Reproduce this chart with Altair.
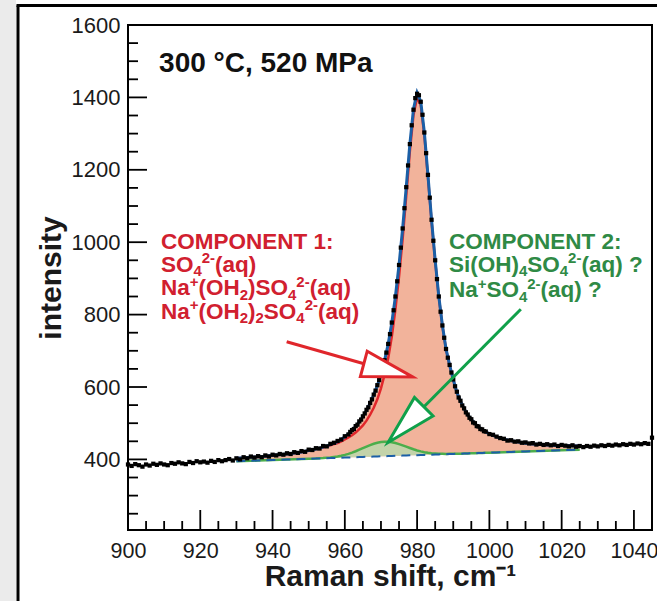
import altair as alt
import pandas as pd

# ---------------- data ----------------
# measured spectrum: 1 cm-1 sampling on the flanks, 0.5 cm-1 around the band
data_x = ([900 + i for i in range(62)]
          + [961.5 + 0.5 * i for i in range(75)]
          + [999 + i for i in range(47)])
data_y = [386, 382, 387, 384, 380, 386, 383, 388, 385, 389,
          386, 384, 390, 388, 392, 389, 387, 393, 390, 395,
          392, 394, 391, 396, 393, 398, 395, 398, 401, 397,
          403, 400, 406, 403, 408, 405, 409, 406, 411, 408,
          413, 411, 415, 413, 417, 415, 420, 418, 423, 421,
          427, 426, 431, 430, 437, 436, 443, 446, 451, 455,
          464, 469,
          476, 481, 484, 492, 496, 505, 510, 519, 527, 537, 544, 556, 566, 579, 590, 605, 619, 636,
          654, 674, 695, 719, 746, 778, 812, 850, 892, 937, 985, 1038, 1094, 1152, 1212, 1271, 1323, 1366, 1398, 1410,
          1406, 1388, 1352, 1303, 1246, 1186, 1123, 1062, 1004, 950, 898, 850, 808, 770, 736, 705, 681, 661, 640, 621,
          602, 587, 571, 562, 549, 541, 530, 524, 515, 511, 502, 500, 492, 491, 484, 483, 478,
          477, 470, 468, 463, 459, 457, 452, 453, 449, 450,
          446, 447, 444, 445, 441, 443, 440, 442, 439, 441,
          437, 440, 438, 436, 439, 435, 437, 434, 437, 435,
          438, 436, 439, 437, 440, 438, 441, 439, 442, 440,
          443, 441, 444, 442, 445, 443, 460]

# fitted curves
fit_x = ([930, 932, 934, 936, 938, 940, 942, 944, 946, 948, 950, 952, 954, 956]
         + list(range(957, 1001))
         + [1002, 1004, 1006, 1008, 1010, 1012, 1014, 1016, 1018, 1020, 1022, 1025])
baseline_vals = [395.0, 395.7, 396.3, 397.0, 397.7, 398.4, 399.0, 399.7, 400.4, 401.1, 401.7, 402.4, 403.1, 403.8,
                 404.1, 404.4, 404.8, 405.1, 405.4, 405.8, 406.1, 406.5, 406.8, 407.1,
                 407.5, 407.8, 408.1, 408.5, 408.8, 409.1, 409.5, 409.8, 410.2, 410.5,
                 410.8, 411.2, 411.5, 411.8, 412.2, 412.5, 412.8, 413.2, 413.5, 413.8,
                 414.2, 414.5, 414.9, 415.2, 415.5, 415.9, 416.2, 416.5, 416.9, 417.2,
                 417.6, 417.9, 418.2, 418.6,
                 419.3, 419.9, 420.6, 421.3, 421.9, 422.6, 423.3, 424.0, 424.6, 425.3, 426.0, 427.0]
component1_vals = [403.0, 404.7, 406.3, 407.0, 408.7, 411.4, 413.0, 414.7, 417.4, 420.1, 424.7, 428.4, 433.1, 438.8,
                   442.1, 445.4, 449.8, 455.1, 460.4, 466.8, 474.1, 483.5, 493.8, 507.1,
                   523.5, 542.8, 566.1, 596.5, 633.8, 679.1, 739.5, 814.8, 905.2, 1009.5,
                   1128.8, 1251.2, 1351.5, 1399.8, 1379.2, 1296.5, 1179.8, 1058.2, 947.5, 848.8,
                   769.2, 704.5, 659.9, 620.2, 585.5, 560.9, 540.2, 523.5, 509.9, 499.2,
                   489.6, 481.9, 476.2, 470.6,
                   462.3, 455.9, 451.6, 448.3, 444.9, 442.6, 441.3, 440.0, 438.6, 438.3, 438.0, 437.0]
component2_vals = [395.0, 395.7, 396.3, 397.0, 397.7, 398.4, 399.0, 399.7, 400.4, 401.1, 401.7, 402.5, 403.8, 405.6,
                   406.8, 408.2, 410.2, 412.6, 415.4, 418.8, 422.6, 426.8, 431.0, 435.4,
                   439.5, 443.1, 445.9, 447.9, 448.8, 448.5, 447.3, 445.1, 442.2, 438.8,
                   435.1, 431.5, 428.0, 424.8, 422.2, 420.0, 418.2, 417.0, 416.2, 415.6,
                   415.3, 415.2, 415.3, 415.4, 415.5, 415.9, 416.2, 416.5, 416.9, 417.2,
                   417.6, 417.9, 418.2, 418.6,
                   419.3, 419.9, 420.6, 421.3, 421.9, 422.6, 423.3, 424.0, 424.6, 425.3, 426.0, 427.0]
total_vals = [403.0, 404.7, 406.3, 407.0, 408.7, 411.4, 413.0, 414.7, 417.4, 420.1, 424.7, 428.5, 433.8, 440.6,
              444.8, 449.2, 455.2, 462.6, 470.4, 479.8, 490.6, 503.8, 518.0, 535.4,
              555.5, 578.1, 603.9, 635.9, 673.8, 718.5, 777.3, 850.1, 937.2, 1037.8,
              1153.1, 1271.5, 1368.0, 1412.8, 1389.2, 1304.0, 1185.2, 1062.0, 950.2, 850.6,
              770.3, 705.2, 660.3, 620.4, 585.5, 560.9, 540.2, 523.5, 509.9, 499.2,
              489.6, 481.9, 476.2, 470.6,
              462.3, 455.9, 451.6, 448.3, 444.9, 442.6, 441.3, 440.0, 438.6, 438.3, 438.0, 437.0]

# axis tick values / labels
x_labels = [900, 920, 940, 960, 980, 1000, 1020, 1040]
x_minor = [v for v in range(905, 1045, 5) if v % 20 != 0]
y_labels = [400, 600, 800, 1000, 1200, 1400, 1600]
y_minor = [v for v in range(250, 1600, 50) if v % 200 != 0]

# annotations: text pieces ("n" normal, "sub" subscript, "sup" superscript)
note_text = ["300 °C, 520 MPa"]
note_x = [908.6]
note_y = [1470.2]
comp1_lines = [
    [("COMPONENT 1:", "n")],
    [("SO", "n"), ("4", "sub"), ("2-", "sup"), ("(aq)", "n")],
    [("Na", "n"), ("+", "sup"), ("(OH", "n"), ("2", "sub"), (")SO", "n"), ("4", "sub"), ("2-", "sup"), ("(aq)", "n")],
    [("Na", "n"), ("+", "sup"), ("(OH", "n"), ("2", "sub"), (")", "n"), ("2", "sub"), ("SO", "n"),
     ("4", "sub"), ("2-", "sup"), ("(aq)", "n")],
]
comp1_x = 909.1
comp1_y = [982.6, 917.7, 852.8, 787.9]
comp2_lines = [
    [("COMPONENT 2:", "n")],
    [("Si(OH)", "n"), ("4", "sub"), ("SO", "n"), ("4", "sub"), ("2-", "sup"), ("(aq) ?", "n")],
    [("Na", "n"), ("+", "sup"), ("SO", "n"), ("4", "sub"), ("2-", "sup"), ("(aq) ?", "n")],
]
comp2_x = 988.8
comp2_y = [982.6, 917.7, 848.6]
# arrows: shaft start, shaft end (base of head), head centre, head angle
red_arrow = dict(x=943.9, y=725.2, x2=965.3, y2=664.4, hx=972.0, hy=645.9, angle=15)
green_arrow = dict(x=1008.7, y=814.7, x2=981.7, y2=543.4, hx=976.9, hy=496.1, angle=135)

# ---------------- styling ----------------
FONT = "Liberation Sans"
SALMON = "#f2b39b"
GREEN_FILL = "#c3d3aa"
RED = "#e0262b"
GREEN = "#4cae4c"
BLUE = "#1b5fa6"
RED_TXT = "#d1202f"
GREEN_TXT = "#2f8a45"
GREEN_ARROW = "#10a04a"
HEAD = "M1,0L-1,-0.52L-1,0.52Z"
W, H = 524, 505
X_DOM = [900, 1045]
Y_DOM = [205, 1600]
PX_PER_X = W / (X_DOM[1] - X_DOM[0])
PX_PER_Y = H / (Y_DOM[1] - Y_DOM[0])
MAIN_FS, SMALL_FS = 22.5, 15

# Liberation Sans Bold advance widths (per 1000 em) for laying out the sub/superscripts
ADV = {' ': 278, '(': 333, ')': 333, '+': 584, '-': 333, '?': 611, ':': 333, 'A': 722, 'C': 722,
       'E': 667, 'H': 722, 'M': 833, 'N': 722, 'O': 778, 'P': 667, 'S': 667, 'T': 611,
       'a': 556, 'i': 278, 'q': 611}
for d in "0123456789":
    ADV[d] = 556

xscale = alt.Scale(domain=X_DOM, nice=False, zero=False)
yscale = alt.Scale(domain=Y_DOM, nice=False, zero=False)
xaxis = alt.Axis(values=x_labels, format="d", title="Raman shift, cm⁻¹", ticks=False, domain=False, grid=False,
                 labelFont=FONT, labelFontSize=21.5, labelPadding=10, labelColor="#1a1a1a",
                 labelFlush=False, labelOverlap=False,
                 titleFont=FONT, titleFontSize=30, titleFontWeight="bold", titleColor="#1a1a1a",
                 titlePadding=0)
yaxis = alt.Axis(values=y_labels, format="d", title="intensity", ticks=False, domain=False, grid=False,
                 labelFont=FONT, labelFontSize=22, labelPadding=8, labelColor="#1a1a1a",
                 labelFlush=False, labelOverlap=False,
                 titleFont=FONT, titleFontSize=30, titleFontWeight="bold", titleColor="#1a1a1a",
                 titlePadding=5)


def X(f):
    return alt.X(f, type="quantitative", scale=xscale, axis=xaxis)


def Y(f):
    return alt.Y(f, type="quantitative", scale=yscale, axis=yaxis)


fit_df = pd.DataFrame({"x": fit_x, "base": baseline_vals, "c1": component1_vals,
                       "c2": component2_vals, "tot": total_vals})
data_df = pd.DataFrame({"x": data_x, "y": data_y})

salmon = alt.Chart(fit_df).mark_area(color=SALMON, opacity=1).encode(x=X("x"), y=Y("tot"), y2="base")
green_area = alt.Chart(fit_df).mark_area(color=GREEN_FILL, opacity=1).encode(x=X("x"), y=Y("c2"), y2="base")
green_line = alt.Chart(fit_df).mark_line(color=GREEN, strokeWidth=2.5).encode(x=X("x"), y=Y("c2"))
dashed = alt.Chart(fit_df).mark_line(color=BLUE, strokeWidth=2, strokeDash=[9, 6]).encode(x=X("x"), y=Y("base"))
red_line = alt.Chart(fit_df).mark_line(color=RED, strokeWidth=2.5).encode(x=X("x"), y=Y("c1"))
blue_line = alt.Chart(fit_df).mark_line(color=BLUE, strokeWidth=3).encode(x=X("x"), y=Y("tot"))
points = alt.Chart(data_df).mark_square(size=18, color="black", opacity=1).encode(x=X("x"), y=Y("y"))

# inward ticks
y_major_t = alt.Chart(pd.DataFrame({"v": y_labels})).mark_rule(color="black", strokeWidth=1.8).encode(
    y=Y("v"), x=alt.value(0), x2=alt.value(19))
y_minor_t = alt.Chart(pd.DataFrame({"v": y_minor})).mark_rule(color="black", strokeWidth=1.8).encode(
    y=Y("v"), x=alt.value(0), x2=alt.value(10))
x_major_t = alt.Chart(pd.DataFrame({"v": x_labels})).mark_rule(color="black", strokeWidth=1.8).encode(
    x=X("v"), y=alt.value(H), y2=alt.value(H - 20))
x_minor_t = alt.Chart(pd.DataFrame({"v": x_minor})).mark_rule(color="black", strokeWidth=1.8).encode(
    x=X("v"), y=alt.value(H), y2=alt.value(H - 9))


def arrow(a, color):
    df = pd.DataFrame([a])
    shaft = alt.Chart(df).mark_rule(color=color, strokeWidth=3).encode(
        x=X("x"), y=Y("y"), x2="x2", y2="y2")
    head = alt.Chart(df).mark_point(shape=HEAD, size=2550, angle=a["angle"], filled=True,
                                    fill="white", stroke=color, strokeWidth=3, opacity=1,
                                    fillOpacity=1, strokeOpacity=1).encode(x=X("hx"), y=Y("hy"))
    return shaft + head


def layout(lines, x0, baselines):
    rows = []
    for segs, yb in zip(lines, baselines):
        xp = 0.0
        for txt, kind in segs:
            fs = MAIN_FS if kind == "n" else SMALL_FS
            shift = {"n": 0, "sub": 4.5, "sup": -8.5}[kind]  # pixels, positive = down
            rows.append({"t": txt, "x": x0 + xp / PX_PER_X, "y": yb - shift / PX_PER_Y, "fs": fs})
            xp += sum(ADV[c] for c in txt) * fs / 1000
    return pd.DataFrame(rows)


def rich_text(lines, x0, baselines, color):
    return alt.Chart(layout(lines, x0, baselines)).mark_text(
        align="left", baseline="alphabetic", font=FONT, fontWeight="bold", color=color
    ).encode(x=X("x"), y=Y("y"), text="t:N", size=alt.Size("fs:Q", scale=None, legend=None))


note = alt.Chart(pd.DataFrame({"t": note_text, "x": note_x, "y": note_y})).mark_text(
    align="left", baseline="alphabetic", font=FONT, fontWeight="bold", fontSize=28, color="#111111"
).encode(x=X("x"), y=Y("y"), text="t:N")
comp1 = rich_text(comp1_lines, comp1_x, comp1_y, RED_TXT)
comp2 = rich_text(comp2_lines, comp2_x, comp2_y, GREEN_TXT)

# outer figure frame (decoration)
one = alt.Data(values=[{}])
strip = alt.Chart(one).mark_rect(color="#ebebeb").encode(
    x=alt.value(-128), x2=alt.value(-112), y=alt.value(-25), y2=alt.value(700))
frame_l = alt.Chart(one).mark_rule(color="black", strokeWidth=3).encode(
    x=alt.value(-110), y=alt.value(-19.5), y2=alt.value(700))
frame_t = alt.Chart(one).mark_rule(color="black", strokeWidth=3).encode(
    y=alt.value(-19.5), x=alt.value(-111.5), x2=alt.value(700))

chart = alt.layer(
    salmon, green_area, green_line, dashed, red_line, blue_line, points,
    y_major_t, y_minor_t, x_major_t, x_minor_t,
    arrow(red_arrow, RED), arrow(green_arrow, GREEN_ARROW),
    note, comp1, comp2,
    strip, frame_l, frame_t,
).properties(
    width=W, height=H,
    autosize=alt.AutoSizeParams(type="none"),
    padding={"left": 128, "top": 25, "right": 5, "bottom": 71},
    background="white",
).configure_view(stroke="black", strokeWidth=2)

chart.save("out.html", embed_options={"renderer": "svg", "actions": False})
